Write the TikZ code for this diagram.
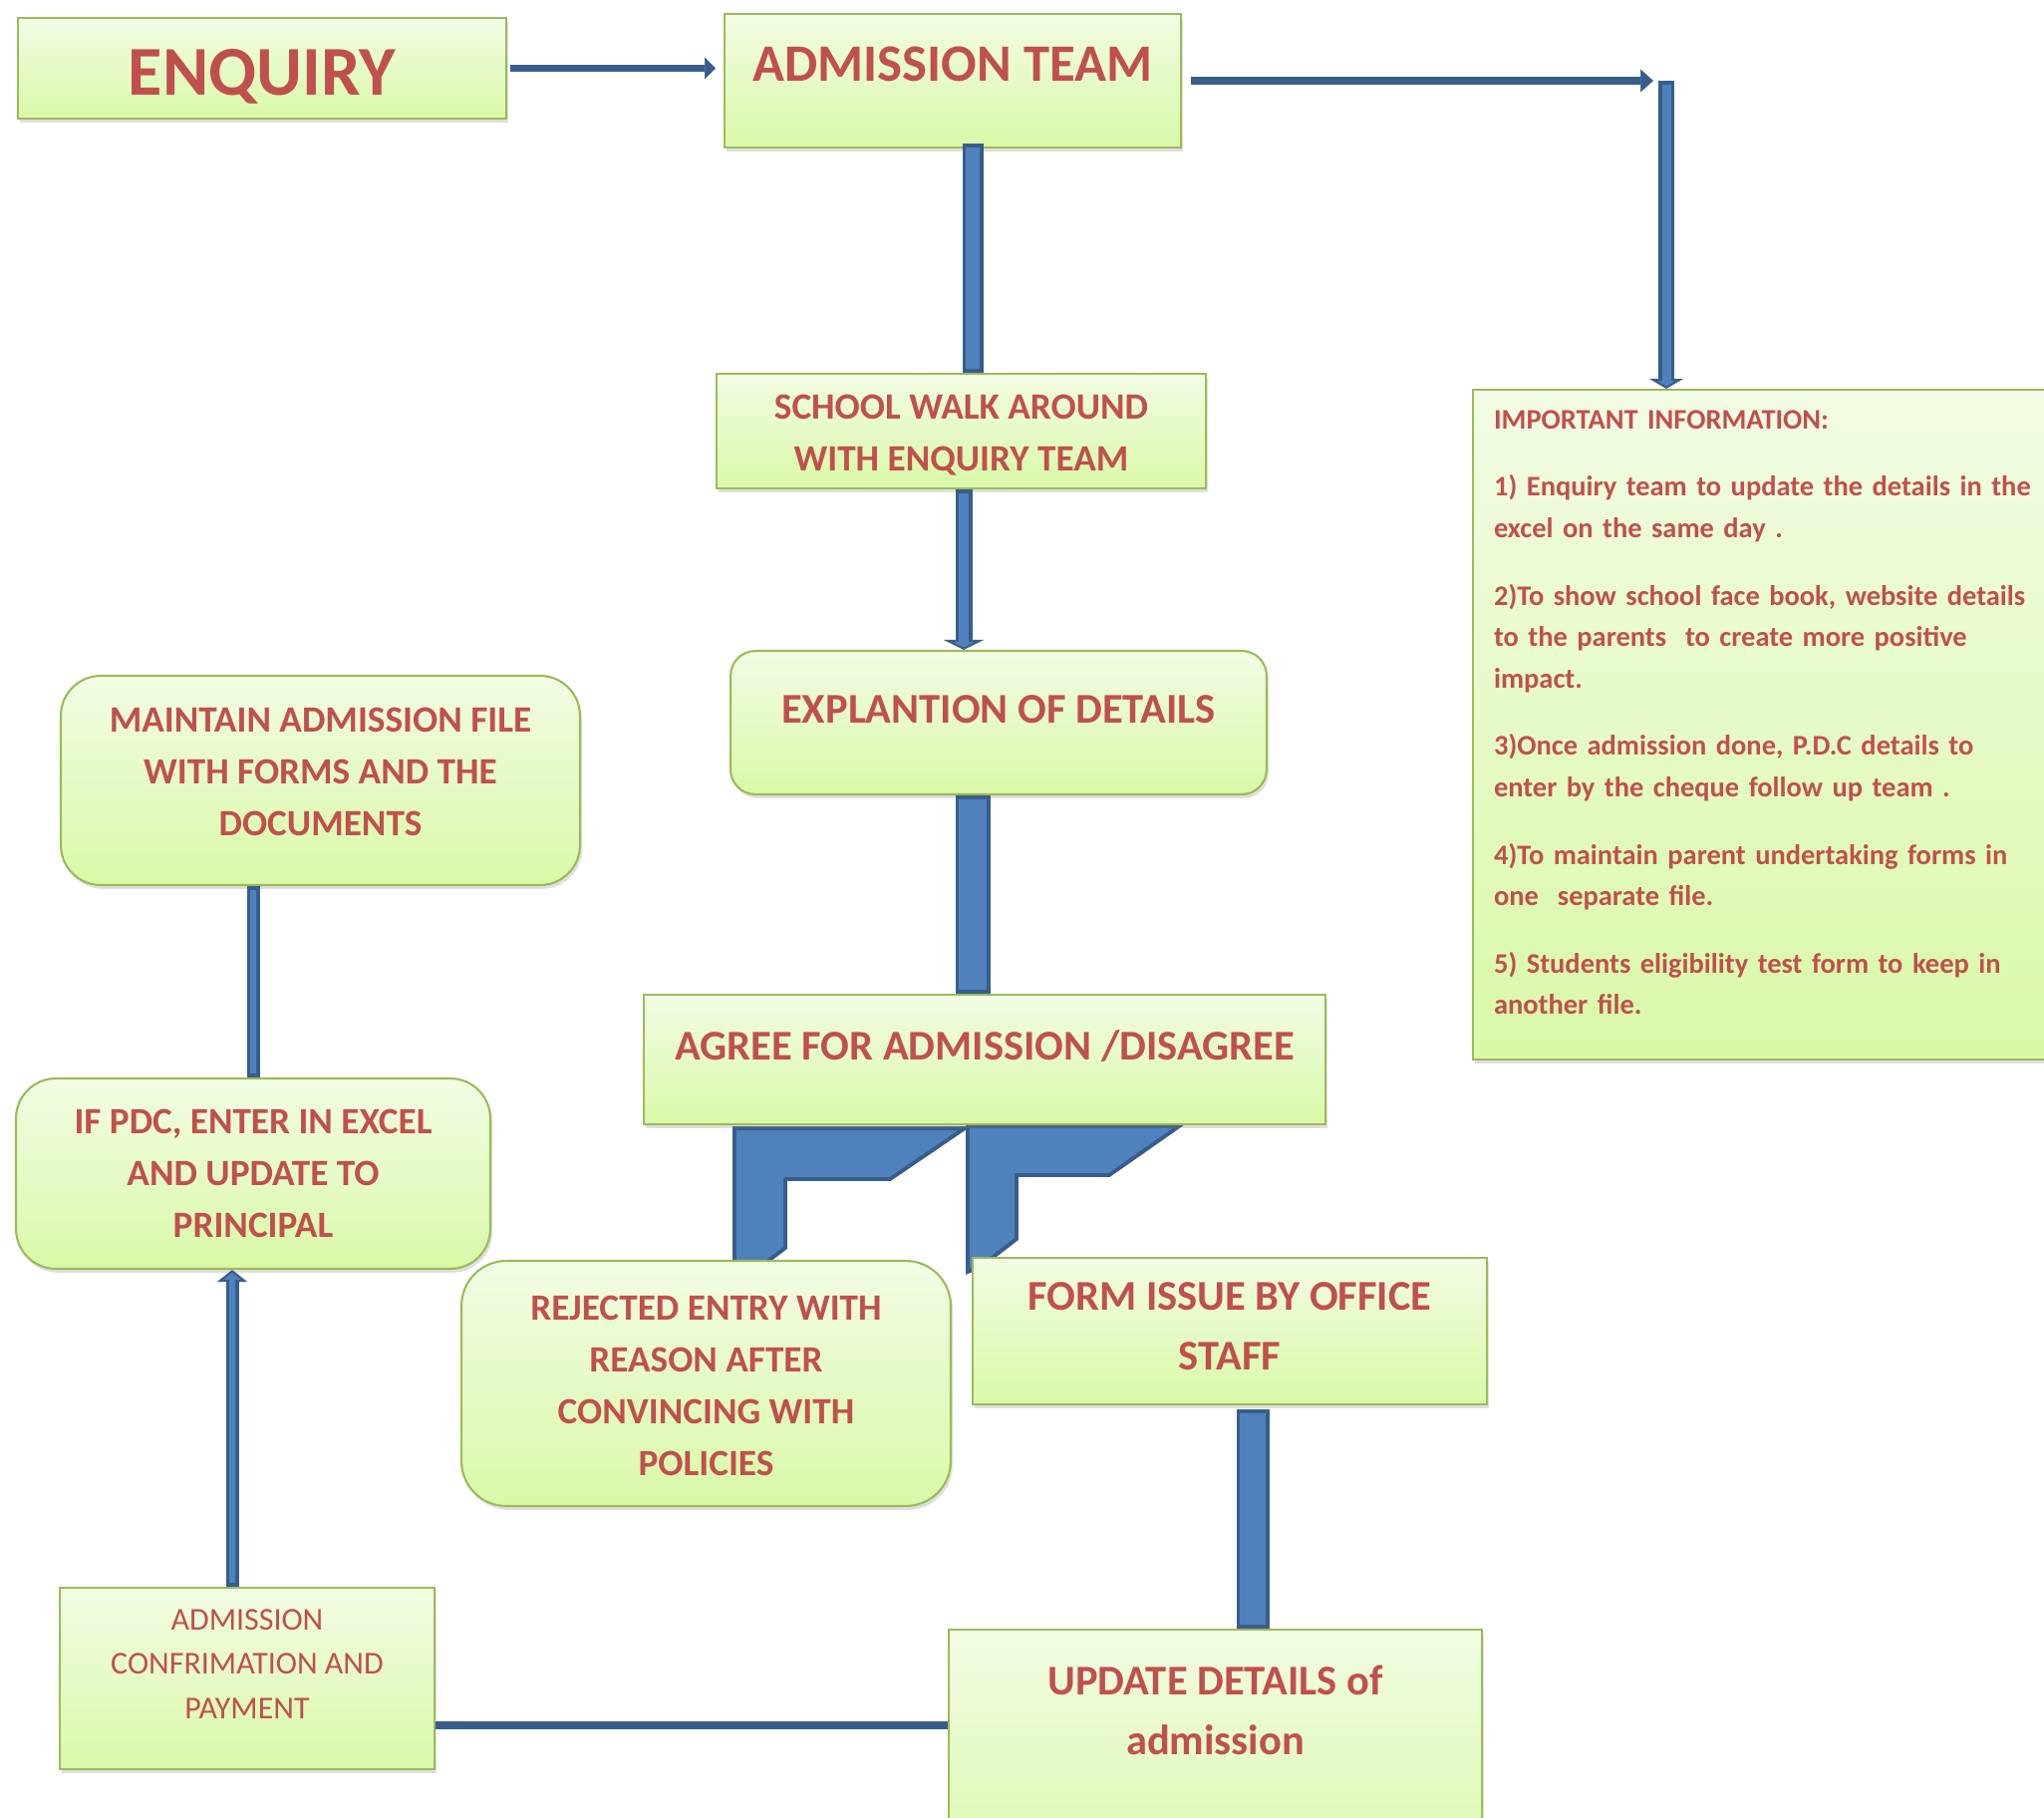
\documentclass[tikz,border=0pt]{standalone}
\usepackage{fontspec}
\setmainfont{Carlito}
\usepackage{xcolor}
\usetikzlibrary{arrows.meta, positioning, calc, shadows, backgrounds}
\definecolor{boxtop}{RGB}{242,252,228}
\definecolor{boxbot}{RGB}{217,249,168}
\definecolor{boxedge}{RGB}{155,187,89}
\definecolor{textred}{RGB}{192,80,77}
\definecolor{pipefill}{RGB}{79,129,189}
\definecolor{pipeedge}{RGB}{56,93,138}

\begin{document}
\begin{tikzpicture}[
    x=0.02cm, y=-0.02cm,
    box/.style={draw=boxedge, line width=1.2pt, top color=boxtop, bottom color=boxbot, text=textred, align=center, inner sep=0pt, drop shadow={shadow xshift=1.2pt, shadow yshift=-2.2pt, opacity=0.25}},
    rbox/.style={box, rounded corners=#1},
    bigtxt/.style={font=\bfseries\fontsize{24.2}{34}\selectfont},
    midtxt/.style={font=\bfseries\fontsize{21.2}{29.5}\selectfont},
    flow/.style={draw=pipeedge, line width=#1, -{Triangle[length=0.22cm, width=0.44cm, line width=0.4pt]}},
    link/.style={draw=pipeedge, line width=0.16cm},
    pipe/.style 2 args={draw=pipeedge, line width=#1, postaction={draw=pipefill, -, line width=#1-4pt, shorten <=2pt, shorten >=#2}},
    pipehead/.style 2 args={-{Triangle[length=#1, width=#2, line width=1.2pt, fill=pipefill]}},
    elbow/.style={fill=pipefill, draw=pipeedge, line width=2.2pt, line join=miter}
]
    \useasboundingbox (0,0) rectangle (2051,1823);

    % Top row
    \node[box, font=\bfseries\fontsize{40}{48}\selectfont, minimum width=9.8cm, minimum height=2.02cm, text height=31pt, text depth=0pt] (enq) at (263,68.5) {ENQUIRY};
    \node[box, font=\bfseries\fontsize{30}{36}\selectfont, minimum width=9.16cm, minimum height=2.68cm, text height=0.4cm, text depth=0.4cm] (adm) at (956,81) {ADMISSION TEAM};

    % Centre column
    \node[box, midtxt, minimum width=9.82cm, minimum height=2.3cm, text height=46pt, text depth=1pt] (walk) at (964.5,432.5) {SCHOOL WALK AROUND\\WITH ENQUIRY TEAM};
    \node[rbox=0.5cm, bigtxt, minimum width=10.76cm, minimum height=2.88cm, text height=0.4cm, text depth=0.4cm] (expl) at (1002,725) {EXPLANTION OF DETAILS};
    \node[box, bigtxt, minimum width=13.68cm, minimum height=2.6cm, text height=0.4cm, text depth=0.4cm] (agree) at (988,1063) {AGREE FOR ADMISSION /DISAGREE};
    \node[rbox=0.9cm, midtxt, minimum width=9.82cm, minimum height=4.92cm, text height=105pt, text depth=0pt] (rej) at (708.5,1388) {REJECTED ENTRY WITH\\REASON AFTER\\CONVINCING WITH\\POLICIES};
    \node[box, bigtxt, minimum width=10.32cm, minimum height=2.94cm, text height=44pt, text depth=0pt] (form) at (1234,1335.5) {FORM ISSUE BY OFFICE\\STAFF};
    \node[box, bigtxt, minimum width=10.7cm, minimum height=5.3cm, text height=52pt, text depth=60.5pt] (upd) at (1219.5,1767.5) {UPDATE DETAILS of\\admission};

    % Left column
    \node[rbox=0.8cm, midtxt, minimum width=10.42cm, minimum height=4.2cm, text height=74pt, text depth=11pt] (keep) at (321.5,783) {MAINTAIN ADMISSION FILE\\WITH FORMS AND THE\\DOCUMENTS};
    \node[rbox=0.8cm, midtxt, minimum width=9.52cm, minimum height=3.82cm] (pdc) at (254,1177.5) {IF PDC, ENTER IN EXCEL\\AND UPDATE TO\\PRINCIPAL};
    \node[box, font=\fontsize{18.2}{25.2}\selectfont, minimum width=7.52cm, minimum height=3.64cm, text height=62.4pt, text depth=16.6pt] (conf) at (248,1684) {ADMISSION\\CONFRIMATION AND\\PAYMENT};

    % Notes
    \node[box, anchor=north west, align=left, text width=11.62cm, inner xsep=0.42cm, minimum height=13.44cm, text height=12pt, text depth=350pt, font=\bfseries\fontsize{16.2}{23.6}\selectfont] (info) at (1477,390) {IMPORTANT INFORMATION:\\[15pt]
        1) Enquiry team to update the details in the\\
        excel on the same day .\\[15pt]
        2)To show school face book, website details\\
        to the parents\ \ to create more positive\\
        impact.\\[15pt]
        3)Once admission done, P.D.C details to\\
        enter by the cheque follow up team .\\[15pt]
        4)To maintain parent undertaking forms in\\
        one\ \ separate file.\\[15pt]
        5) Students eligibility test form to keep in\\
        another file.};

    % Thin arrows
    \draw[flow=0.14cm, shorten <=0.06cm, shorten >=0.16cm] (enq.east) -- (enq.east -| adm.west);
    \coordinate (bend) at (1672,81);
    \draw[flow=0.16cm, -{Triangle[length=0.26cm, width=0.46cm, line width=0.4pt]}, shorten <=0.18cm, shorten >=0.26cm] (adm.east) -- (bend);
    \draw[pipe={0.32cm}{0.12cm}, pipehead={0.2cm}{0.68cm}] (bend) -- (bend |- info.north);

    % Block connectors
    \coordinate (a1) at ([xshift=0.4cm, yshift=0.1cm]adm.south);
    \draw[pipe={0.42cm}{2pt}] (a1) -- (a1 |- walk.north);
    \coordinate (a2) at ([xshift=0.05cm]walk.south);
    \draw[pipe={0.34cm}{0.14cm}, pipehead={0.2cm}{0.8cm}] (a2) -- (a2 |- expl.north);
    \coordinate (a3) at ([xshift=-0.52cm]expl.south);
    \draw[pipe={0.7cm}{2pt}] (a3) -- (a3 |- agree.north);
    \coordinate (a4) at ([xshift=0.46cm, yshift=-0.08cm]form.south);
    \draw[pipe={0.66cm}{2pt}] (a4) -- (a4 |- upd.north);
    \coordinate (a5) at ([xshift=-0.3cm]conf.north);
    \draw[pipe={0.26cm}{0.16cm}, pipehead={0.24cm}{0.6cm}] (a5) -- (a5 |- pdc.south);
    \draw[pipe={0.26cm}{2pt}] (pdc.north) -- (pdc.north |- keep.south);
    \coordinate (u1) at ([yshift=0.73cm]upd.west);
    \draw[link] (u1) -- (u1 -| conf.east);

    % Split below the decision box
    \begin{scope}[on background layer]
        \draw[elbow] (737,1132) -- (968,1132) -- (893,1183) -- (788,1183) -- (788,1252) -- (764,1270) -- (737,1270) -- cycle;
        \draw[elbow] (971,1130) -- (1183,1130) -- (1113,1179) -- (1020,1179) -- (1020,1243) -- (985,1270) -- (971,1276) -- cycle;
    \end{scope}
\end{tikzpicture}
\end{document}
